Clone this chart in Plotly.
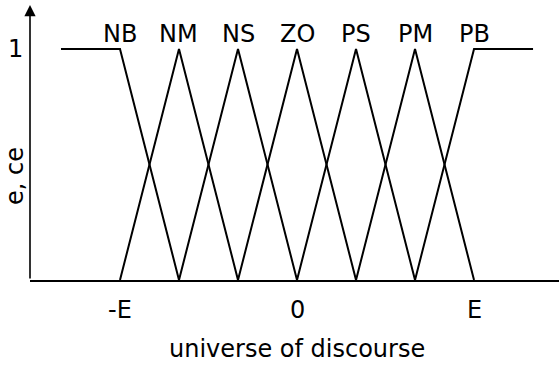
import plotly.graph_objects as go

# fuzzy sets over the universe of discourse (E = 3)
set_names = ["NB", "NM", "NS", "ZO", "PS", "PM", "PB"]
set_peaks = [-3, -2, -1, 0, 1, 2, 3]
set_x = [
    [-4, -3, -2],
    [-3, -2, -1],
    [-2, -1, 0],
    [-1, 0, 1],
    [0, 1, 2],
    [1, 2, 3],
    [2, 3, 4],
]
set_y = [
    [1, 1, 0],
    [0, 1, 0],
    [0, 1, 0],
    [0, 1, 0],
    [0, 1, 0],
    [0, 1, 0],
    [0, 1, 1],
]
tick_vals = [-3, 0, 3]
tick_text = ["-E", "0", "E"]

FONT = "DejaVu Sans, Arial, sans-serif"
x_range = [-4.525, 4.44]
y_range = [0, 1.19]

fig = go.Figure()
for name, xs, ys in zip(set_names, set_x, set_y):
    fig.add_trace(go.Scatter(x=xs, y=ys, mode="lines", name=name,
                             line=dict(color="black", width=2),
                             showlegend=False, cliponaxis=False))

# set labels above the peaks
for name, p in zip(set_names, set_peaks):
    fig.add_annotation(x=p, y=1.065, text=name, showarrow=False,
                       xanchor="center", yanchor="middle",
                       font=dict(size=24, color="black", family=FONT))

# x tick labels
for v, t in zip(tick_vals, tick_text):
    fig.add_annotation(x=v, y=0, yref="paper", yshift=-30, text=t,
                       showarrow=False, xanchor="center", yanchor="middle",
                       font=dict(size=24, color="black", family=FONT))

# y tick "1"
fig.add_annotation(x=0, xref="paper", xshift=-15, y=1, text="1",
                   showarrow=False, xanchor="center", yanchor="middle",
                   font=dict(size=24, color="black", family=FONT))

# axis titles
fig.add_annotation(x=0, y=0, xref="x", yref="paper", yshift=-69,
                   text="universe of discourse", showarrow=False,
                   xanchor="center", yanchor="middle",
                   font=dict(size=24, color="black", family=FONT))
fig.add_annotation(x=0, xref="paper", xshift=-15, y=0.45, text="e, ce",
                   textangle=-90, showarrow=False,
                   xanchor="center", yanchor="middle",
                   font=dict(size=24, color="black", family=FONT))

# y axis with arrow
fig.add_annotation(x=x_range[0], y=1.19, xref="x", yref="y",
                   ax=x_range[0], ay=0, axref="x", ayref="y",
                   showarrow=True, arrowhead=2, arrowsize=1.4,
                   arrowwidth=1.6, arrowcolor="black", text="")

fig.update_xaxes(range=x_range, showgrid=False, zeroline=False,
                 showticklabels=False, ticks="",
                 showline=True, linecolor="black", linewidth=2)
fig.update_yaxes(range=y_range, showgrid=False, zeroline=False,
                 showticklabels=False, ticks="", showline=False)

fig.update_layout(width=559, height=369,
                  margin=dict(l=30, r=0, t=5, b=89),
                  plot_bgcolor="white", paper_bgcolor="white")

fig.write_html("out.html", config={"displayModeBar": False},
               post_script="document.body.style.margin='0';"
                           "document.body.style.overflow='hidden';")
